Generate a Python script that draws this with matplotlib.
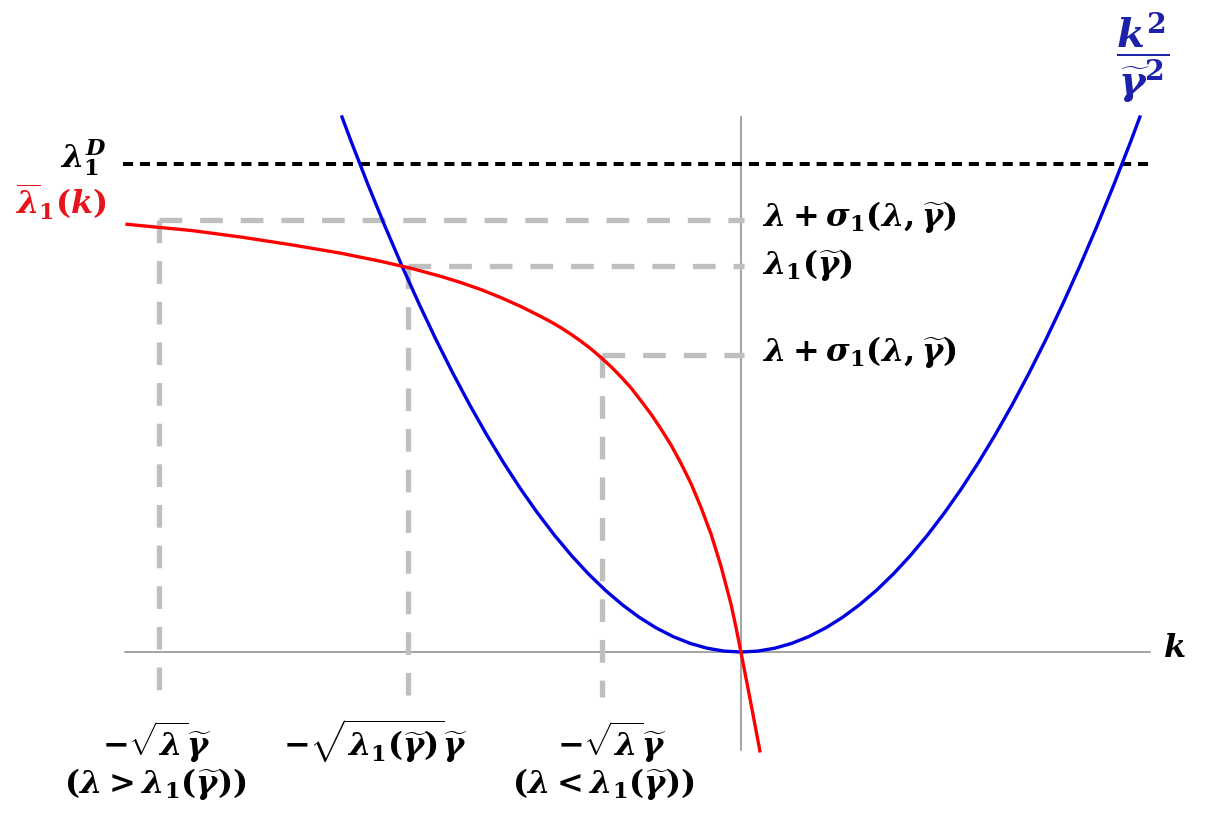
import matplotlib
matplotlib.use("Agg")
import matplotlib.pyplot as plt

plt.rcParams['mathtext.fontset'] = 'custom'
plt.rcParams['mathtext.it'] = 'DejaVu Serif:bold:italic'
plt.rcParams['mathtext.rm'] = 'DejaVu Serif:bold'
plt.rcParams['mathtext.bf'] = 'DejaVu Serif:bold'
plt.rcParams['mathtext.sf'] = 'DejaVu Serif:bold'

# ---- data (k in units of sqrt(lambda_1)*gamma, lambda in units of lambda_1) ----
blue_k = [-1.177, -1.15, -1.10, -1.05, -1.00, -0.95, -0.90, -0.85, -0.80, -0.75, -0.70,
          -0.65, -0.60, -0.55, -0.50, -0.45, -0.40, -0.35, -0.30, -0.25, -0.20, -0.15,
          -0.10, -0.05, 0.0, 0.05, 0.10, 0.15, 0.20, 0.25, 0.30, 0.35, 0.40, 0.45, 0.50,
          0.55, 0.60, 0.65, 0.70, 0.75, 0.80, 0.85, 0.90, 0.95, 1.00, 1.05, 1.10, 1.15,
          1.177]
blue_lam = [1.386, 1.3225, 1.21, 1.1025, 1.0, 0.9025, 0.81, 0.7225, 0.64, 0.5625, 0.49,
            0.4225, 0.36, 0.3025, 0.25, 0.2025, 0.16, 0.1225, 0.09, 0.0625, 0.04, 0.0225,
            0.01, 0.0025, 0.0, 0.0025, 0.01, 0.0225, 0.04, 0.0625, 0.09, 0.1225, 0.16,
            0.2025, 0.25, 0.3025, 0.36, 0.4225, 0.49, 0.5625, 0.64, 0.7225, 0.81, 0.9025,
            1.0, 1.1025, 1.21, 1.3225, 1.386]

red_k = [-1.811, -1.622, -1.475, -1.327, -1.180, -1.062, -0.973, -0.885, -0.826, -0.767,
         -0.708, -0.649, -0.590, -0.560, -0.531, -0.501, -0.472, -0.442, -0.413, -0.383,
         -0.354, -0.324, -0.295, -0.265, -0.236, -0.206, -0.177, -0.147, -0.118, -0.088,
         -0.059, -0.029, -0.0147, 0.0, 0.027, 0.056]
red_lam = [1.108, 1.092, 1.075, 1.055, 1.033, 1.012, 0.994, 0.973, 0.957, 0.939,
           0.918, 0.895, 0.869, 0.855, 0.840, 0.823, 0.805, 0.785, 0.763, 0.739,
           0.713, 0.684, 0.651, 0.616, 0.578, 0.536, 0.489, 0.436, 0.375, 0.305,
           0.223, 0.123, 0.0645, 0.0, -0.122, -0.256]

lam_D = 1.264                        # dotted level lambda_1^D
guide_k = [-1.718, -0.982, -0.410]   # vertical dashed guides
guide_lam = [1.118, 1.0, 0.769]      # horizontal dashed guides

bottom_labels = [r'$-\sqrt{\lambda}\widetilde{\gamma}$',
                 r'$-\sqrt{\lambda_1(\widetilde{\gamma})}\widetilde{\gamma}$',
                 r'$-\sqrt{\lambda}\widetilde{\gamma}$']
bottom_label_k = [-1.723, -1.077, -0.381]
cond_labels = [r'$(\lambda>\lambda_1(\widetilde{\gamma}))$',
               r'$(\lambda<\lambda_1(\widetilde{\gamma}))$']
cond_label_k = [-1.729, -0.407]
right_labels = [r'$\lambda+\sigma_1(\lambda,\widetilde{\gamma})$',
                r'$\lambda_1(\widetilde{\gamma})$',
                r'$\lambda+\sigma_1(\lambda,\widetilde{\gamma})$']

# ---- figure ----
fig = plt.figure(figsize=(12.08, 8.25), dpi=100)
ax = fig.add_axes([0, 0, 1, 1])
ax.set_xlim(-2.186, 1.378)
ax.set_ylim(-0.448, 1.689)
ax.axis('off')

axis_col = '#8a8a8a'
ax.plot([-1.817, 1.206], [0, 0], color=axis_col, lw=1.1, zorder=1)
ax.plot([0, 0], [-0.254, 1.386], color=axis_col, lw=1.1, zorder=1)

grey = '#bfbfbf'
glw = 3.8
bottom = -0.117
for gk, gl in zip(guide_k, guide_lam):
    ax.plot([gk, 0.01], [gl, gl], color=grey, lw=glw, dashes=(4.3, 3.4), zorder=2,
            dash_capstyle='butt')
    ax.plot([gk, gk], [gl, bottom], color=grey, lw=glw, dashes=(4.3, 3.4), zorder=2,
            dash_capstyle='butt')

ax.plot([-1.823, 1.212], [lam_D, lam_D], color='black', lw=2.9, dashes=(2.5, 1.7),
        dash_capstyle='butt', zorder=3)

ax.plot(blue_k, blue_lam, color='#0000e0', lw=2.4, zorder=4, solid_joinstyle='round')
ax.plot(red_k, red_lam, color='#ff0000', lw=2.4, zorder=5, solid_joinstyle='round')

fs = 23
ax.text(-1.870, 1.28, r'$\lambda_1^D$', fontsize=fs, ha='right', va='center', color='black')
ax.text(-1.870, 1.165, r'$\overline{\lambda}_1(k)$', fontsize=fs, ha='right', va='center',
        color='#e8141c')
ax.text(1.186, 1.54, r'$\dfrac{k^2}{\widetilde{\gamma}^2}$', fontsize=29, ha='center',
        va='center', color='#1e22aa')
for lab, gl, dy in zip(right_labels, guide_lam, [0.009, 0.003, 0.008]):
    ax.text(0.062, gl + dy, lab, fontsize=fs, ha='left', va='center', color='black')
ax.text(1.280, 0.010, r'$k$', fontsize=fs, ha='center', va='center', color='black')

for bk, lab in zip(bottom_label_k, bottom_labels):
    ax.text(bk, -0.232, lab, fontsize=fs, ha='center', va='center', color='black')
for ck, cond in zip(cond_label_k, cond_labels):
    ax.text(ck, -0.341, cond, fontsize=fs, ha='center', va='center', color='black')

fig.savefig('out.png', dpi=100)
